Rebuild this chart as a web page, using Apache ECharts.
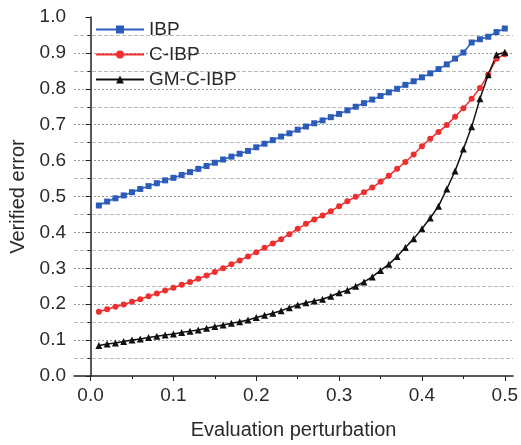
<!DOCTYPE html>
<html>
<head>
<meta charset="utf-8">
<script src="https://cdn.jsdelivr.net/npm/echarts@6/dist/echarts.min.js"></script>
<style>
  html, body { margin: 0; padding: 0; background: #fff; }
  #chart { width: 521px; height: 445px; }
</style>
</head>
<body>
<div id="chart"></div>
<script>
// perturbation values 0.01 .. 0.50
var eps = [];
for (var i = 1; i <= 50; i++) eps.push(+(i / 100).toFixed(2));

var ibp = [
  0.475, 0.486, 0.495, 0.503, 0.512, 0.521, 0.529, 0.537, 0.545, 0.552,
  0.560, 0.568, 0.577, 0.585, 0.594, 0.603, 0.611, 0.619, 0.627, 0.637,
  0.647, 0.657, 0.667, 0.676, 0.686, 0.695, 0.704, 0.712, 0.721, 0.730,
  0.740, 0.750, 0.760, 0.770, 0.780, 0.790, 0.800, 0.811, 0.821, 0.832,
  0.843, 0.855, 0.868, 0.884, 0.901, 0.929, 0.938, 0.945, 0.958, 0.968
];
var cibp = [
  0.179, 0.186, 0.193, 0.199, 0.207, 0.214, 0.222, 0.230, 0.238, 0.246,
  0.254, 0.262, 0.271, 0.280, 0.290, 0.300, 0.311, 0.322, 0.333, 0.345,
  0.357, 0.369, 0.381, 0.395, 0.410, 0.424, 0.436, 0.447, 0.459, 0.473,
  0.487, 0.499, 0.512, 0.525, 0.541, 0.558, 0.577, 0.596, 0.617, 0.640,
  0.661, 0.680, 0.699, 0.722, 0.746, 0.772, 0.802, 0.840, 0.884, 0.896
];
var gmcibp = [
  0.085, 0.089, 0.092, 0.096, 0.100, 0.103, 0.107, 0.111, 0.114, 0.117,
  0.121, 0.125, 0.128, 0.133, 0.138, 0.142, 0.147, 0.151, 0.156, 0.163,
  0.169, 0.175, 0.182, 0.190, 0.198, 0.204, 0.209, 0.214, 0.222, 0.232,
  0.239, 0.250, 0.262, 0.276, 0.294, 0.311, 0.333, 0.358, 0.382, 0.410,
  0.440, 0.473, 0.521, 0.571, 0.632, 0.694, 0.772, 0.839, 0.895, 0.902
];
var seriesNames = ["IBP", "C-IBP", "GM-C-IBP"];
var xTicks = [0, 0.1, 0.2, 0.3, 0.4, 0.5];
var xMinorTicks = [0.05, 0.15, 0.25, 0.35, 0.45];

function pairs(ys) {
  return ys.map(function (v, i) { return [eps[i], v]; });
}

var font = "'Liberation Sans', Arial, sans-serif";
var txt = "#2a2a2a";
var chart = echarts.init(document.getElementById("chart"));

var option = {
  backgroundColor: "#fff",
  animation: false,
  grid: { left: 74, right: 5, top: 17, bottom: 67 },
  legend: {
    orient: "vertical",
    left: 90,
    top: 14,
    itemWidth: 48,
    itemHeight: 10,
    itemGap: 4,
    textStyle: { fontFamily: font, fontSize: 19, lineHeight: 21, color: txt },
    data: seriesNames
  },
  xAxis: [
    {
      type: "value",
      min: -0.02,
      max: 0.51,
      name: "Evaluation perturbation",
      nameLocation: "middle",
      nameGap: 44,
      nameTextStyle: { fontFamily: font, fontSize: 20, color: txt },
      axisLine: { lineStyle: { color: "#222", width: 1.5 } },
      axisTick: { show: true, length: 5, inside: false, customValues: xTicks, lineStyle: { color: "#222" } },
      axisLabel: {
        customValues: xTicks,
        margin: 10,
        fontFamily: font, fontSize: 19, color: txt,
        formatter: function (v) { return v.toFixed(1); }
      },
      splitLine: { show: false }
    },
    {
      type: "value",
      min: -0.02,
      max: 0.51,
      position: "bottom",
      axisLine: { show: false },
      axisTick: { show: true, length: 3, customValues: xMinorTicks, lineStyle: { color: "#222" } },
      axisLabel: { show: false },
      splitLine: { show: false }
    }
  ],
  yAxis: {
    type: "value",
    min: 0,
    max: 1,
    interval: 0.1,
    name: "Verified error",
    nameLocation: "middle",
    nameGap: 44,
    nameTextStyle: { fontFamily: font, fontSize: 20, color: txt },
    axisLine: { show: true, lineStyle: { color: "#222", width: 1.5 } },
    axisTick: { show: true, length: 5, lineStyle: { color: "#222" } },
    minorTick: { show: true, splitNumber: 2, length: 3, lineStyle: { color: "#222" } },
    axisLabel: {
      margin: 8,
      fontFamily: font, fontSize: 19, color: txt,
      formatter: function (v) { return v.toFixed(1); }
    },
    splitLine: {
      show: true,
      showMaxLine: false,
      showMinLine: false,
      lineStyle: { color: "#999", type: [2, 2], width: 1 }
    },
    minorSplitLine: {
      show: true,
      lineStyle: { color: "#bbb", type: [4, 2], width: 1 }
    }
  },
  series: [
    {
      name: seriesNames[0],
      type: "line",
      data: pairs(ibp),
      symbol: "rect",
      symbolSize: 6,
      itemStyle: { color: "#2b5cba" },
      lineStyle: { color: "#2b5cba", width: 1.5 }
    },
    {
      name: seriesNames[1],
      type: "line",
      data: pairs(cibp),
      symbol: "circle",
      symbolSize: 6,
      itemStyle: { color: "#ee2f2f" },
      lineStyle: { color: "#ee2f2f", width: 1.5 }
    },
    {
      name: seriesNames[2],
      type: "line",
      data: pairs(gmcibp),
      symbol: "triangle",
      symbolSize: 7,
      itemStyle: { color: "#111" },
      lineStyle: { color: "#111", width: 1.5 }
    }
  ]
};

chart.setOption(option);
</script>
</body>
</html>
